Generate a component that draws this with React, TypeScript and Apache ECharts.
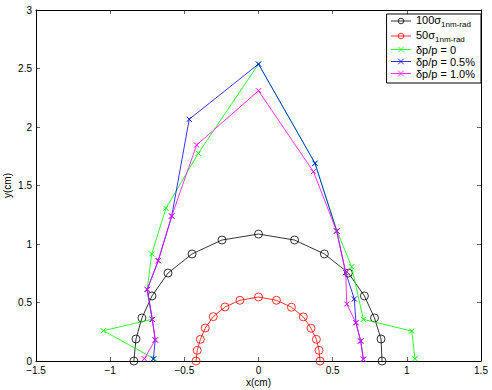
import React, { useEffect, useRef } from "react";
import * as echarts from "echarts";

const xTicks = [-1.5, -1, -0.5, 0, 0.5, 1, 1.5];
const yTicks = [0, 0.5, 1, 1.5, 2, 2.5, 3];

const legendLabels = ["100σ", "50σ", "δp/p = 0", "δp/p = 0.5%", "δp/p = 1.0%"];
const legendSubs = ["1nm-rad", "1nm-rad", "", "", ""];

const beam100X = [-0.84, -0.826, -0.786, -0.718, -0.61, -0.448, -0.246, 0, 0.243, 0.444, 0.606, 0.714, 0.782, 0.826, 0.833];
const beam100Y = [0, 0.188, 0.368, 0.556, 0.752, 0.915, 1.034, 1.085, 1.034, 0.915, 0.752, 0.556, 0.368, 0.188, 0];

const beam50X = [-0.421, -0.413, -0.392, -0.359, -0.305, -0.226, -0.125, 0, 0.121, 0.222, 0.302, 0.354, 0.39, 0.408, 0.415];
const beam50Y = [0, 0.091, 0.185, 0.282, 0.379, 0.462, 0.519, 0.547, 0.519, 0.46, 0.377, 0.28, 0.185, 0.091, 0];

const dp0X = [-0.705, -1.046, -0.718, -0.75, -0.72, -0.624, -0.406, 0, 0.381, 0.53, 0.628, 0.707, 1.033, 1.055];
const dp0Y = [0.02, 0.259, 0.356, 0.612, 0.915, 1.305, 1.775, 2.538, 1.69, 1.11, 0.805, 0.356, 0.256, 0.02];

const dp05X = [-0.709, -0.696, -0.716, -0.75, -0.676, -0.585, -0.467, 0, 0.381, 0.527, 0.588, 0.646, 0.657, 0.689, 0.707];
const dp05Y = [0.017, 0.18, 0.356, 0.612, 0.857, 1.239, 2.066, 2.538, 1.69, 1.111, 0.755, 0.53, 0.327, 0.171, 0.015];

const dp10X = [-0.77, -0.696, -0.716, -0.75, -0.676, -0.585, -0.417, 0, 0.37, 0.527, 0.588, 0.595, 0.657, 0.689, 0.707];
const dp10Y = [0.02, 0.18, 0.356, 0.612, 0.857, 1.239, 1.846, 2.31, 1.618, 1.111, 0.755, 0.487, 0.327, 0.171, 0.015];

const seriesColors = ["#000000", "#ff0000", "#00ff00", "#0000ff", "#ff00ff"];

const CROSS = "path://M0,0L10,10M10,0L0,10";
const RING = "path://M10,5A5,5,0,1,1,0,5A5,5,0,1,1,10,5Z";
const FONT = "'Liberation Sans', Arial, Helvetica, sans-serif";

const zip = (xs: number[], ys: number[]) => xs.map((x, i) => [x, ys[i]]);
const fmt = (v: number) => (v < 0 ? "\u2212" + String(-v) : String(v));

export default function App() {
  const ref = useRef<HTMLDivElement>(null);
  useEffect(() => {
    if (!ref.current) return;
    const chart = echarts.init(ref.current, undefined, { renderer: "svg" });
    const datasets = [
      zip(beam100X, beam100Y),
      zip(beam50X, beam50Y),
      zip(dp0X, dp0Y),
      zip(dp05X, dp05Y),
      zip(dp10X, dp10Y),
    ];
    const series = datasets.map((data, i) => {
      const circle = i < 2;
      return {
        name: legendLabels[i],
        type: "line",
        data,
        symbol: circle ? RING : CROSS,
        symbolSize: circle ? 8 : 5,
        showAllSymbol: true,
        lineStyle: { color: seriesColors[i], width: 0.8 },
        itemStyle: {
          color: "rgba(0,0,0,0)",
          borderColor: seriesColors[i],
          borderWidth: circle ? 0.8 : 1,
        },
        emphasis: { disabled: true },
        z: 2 + i,
      };
    });
    const axisCommon = {
      type: "value" as const,
      axisLine: { show: true, onZero: false, lineStyle: { color: "#000", width: 1 } },
      axisTick: { show: true, inside: true, length: 4, lineStyle: { color: "#000", width: 0.6 } },
      splitLine: { show: false },
    };
    chart.setOption({
      animation: false,
      backgroundColor: "#ffffff",
      grid: { left: 36, right: 11, top: 10, bottom: 29, containLabel: false, outerBoundsMode: "none" },
      xAxis: [
        {
          ...axisCommon,
          position: "bottom",
          min: xTicks[0],
          max: xTicks[xTicks.length - 1],
          interval: 0.5,
          name: "x(cm)",
          nameLocation: "middle",
          nameGap: 16,
          nameMoveOverlap: false,
          nameTextStyle: { fontFamily: FONT, fontSize: 10, color: "#000" },
          axisLabel: { fontFamily: FONT, fontSize: 10, color: "#000", margin: 4, formatter: fmt },
        },
        {
          ...axisCommon,
          position: "top",
          min: xTicks[0],
          max: xTicks[xTicks.length - 1],
          interval: 0.5,
          axisLabel: { show: false },
        },
      ],
      yAxis: [
        {
          ...axisCommon,
          position: "left",
          min: yTicks[0],
          max: yTicks[yTicks.length - 1],
          interval: 0.5,
          name: "y(cm)",
          nameLocation: "middle",
          nameGap: 24,
          nameMoveOverlap: false,
          nameRotate: 90,
          nameTextStyle: { fontFamily: FONT, fontSize: 10, color: "#000" },
          axisLabel: { fontFamily: FONT, fontSize: 10, color: "#000", margin: 4, formatter: fmt },
        },
        {
          ...axisCommon,
          position: "right",
          min: yTicks[0],
          max: yTicks[yTicks.length - 1],
          interval: 0.5,
          axisLabel: { show: false },
        },
      ],
      legend: {
        orient: "vertical",
        right: 11,
        top: 14,
        itemWidth: 20,
        itemHeight: 7,
        itemGap: 1,
        itemTextGap: 3,
        padding: [0, 6, 4, 4],
        backgroundColor: "#ffffff",
        borderColor: "#000",
        borderWidth: 1,
        borderRadius: 0,
        itemStyle: { borderWidth: 0.8, color: "rgba(0,0,0,0)" },
        lineStyle: { width: 0.8 },
        data: legendLabels,
        formatter: (name: string) => {
          const i = legendLabels.indexOf(name);
          return legendSubs[i] ? `{m|${name}}{s|${legendSubs[i]}}` : `{n|${name}}`;
        },
        textStyle: {
          fontFamily: FONT,
          fontSize: 11,
          color: "#000",
          rich: {
            m: { fontFamily: FONT, fontSize: 11, color: "#000", lineHeight: 14, verticalAlign: "top" },
            s: { fontFamily: FONT, fontSize: 8, color: "#000", lineHeight: 14, verticalAlign: "bottom" },
            n: { fontFamily: FONT, fontSize: 11, color: "#000", lineHeight: 12 },
          },
        },
      },
      series,
    });
    return () => chart.dispose();
  }, []);
  return (
    <div
      ref={ref}
      style={{ position: "fixed", left: 0, top: 0, width: 492, height: 390, background: "#fff" }}
    />
  );
}
